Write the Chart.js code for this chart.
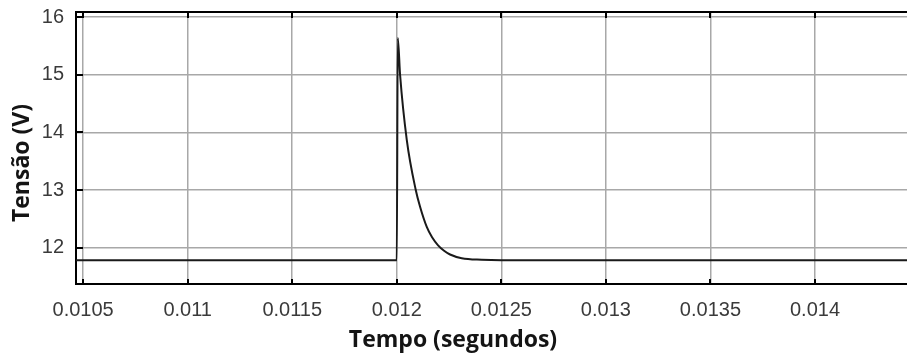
<!DOCTYPE html>
<html>
<head>
<meta charset="utf-8">
<script src="https://cdn.jsdelivr.net/npm/chart.js@4.4.0/dist/chart.umd.min.js"></script>
<style>
  html, body { margin: 0; padding: 0; background: #ffffff; }
  #wrap { width: 907px; height: 356px; position: relative; }
</style>
</head>
<body>
<div id="wrap"><canvas id="c" width="907" height="356"></canvas></div>
<script>
// ---- data ----
const timeSeconds = [0.0104, 0.0119995, 0.0120, 0.0120048, 0.0120158, 0.0120478,
  0.0120908, 0.0121114, 0.0121434, 0.0121688, 0.0121975, 0.0122262, 0.0122549, 0.0123108,
  0.0124064, 0.0125, 0.0145];
const voltage = [11.78, 11.78, 11.78, 15.64, 15.00, 13.87,
  13.00, 12.71, 12.36, 12.18, 12.04, 11.945, 11.88, 11.815,
  11.788, 11.78, 11.78];
const xTickValues = [0.0105, 0.011, 0.0115, 0.012, 0.0125, 0.013, 0.0135, 0.014];
const xTickLabels = ['0.0105', '0.011', '0.0115', '0.012', '0.0125', '0.013', '0.0135', '0.014'];
const yTickValues = [12, 13, 14, 15, 16];
const yTickLabels = ['12', '13', '14', '15', '16'];
const xTitle = 'Tempo (segundos)';
const yTitle = 'Tensão (V)';

const points = timeSeconds.map((t, i) => ({ x: t, y: voltage[i] }));

const framePlugin = {
  id: 'frame',
  afterDraw(chart) {
    const { ctx, chartArea: a, scales } = chart;
    ctx.save();
    ctx.strokeStyle = '#000000';
    ctx.lineWidth = 2;
    // top frame line
    ctx.beginPath();
    ctx.moveTo(a.left, a.top);
    ctx.lineTo(a.right, a.top);
    ctx.stroke();
    // inward tick marks
    ctx.beginPath();
    xTickValues.forEach(v => {
      const px = Math.round(scales.x.getPixelForValue(v));
      ctx.moveTo(px, a.bottom); ctx.lineTo(px, a.bottom - 5);
      ctx.moveTo(px, a.top); ctx.lineTo(px, a.top + 6);
    });
    yTickValues.forEach(v => {
      const py = Math.round(scales.y.getPixelForValue(v));
      ctx.moveTo(a.left, py); ctx.lineTo(a.left + 7, py);
    });
    ctx.stroke();
    // axis titles
    ctx.fillStyle = '#141414';
    ctx.font = 'bold 23px "Open Sans"';
    ctx.textAlign = 'center';
    ctx.textBaseline = 'alphabetic';
    ctx.fillText(xTitle, 453, 347);
    ctx.translate(29, 163);
    ctx.rotate(-Math.PI / 2);
    ctx.fillText(yTitle, 0, 0);
    ctx.restore();
  }
};

new Chart(document.getElementById('c'), {
  type: 'line',
  data: {
    datasets: [{
      data: points,
      borderColor: '#1a1a1a',
      borderWidth: 2,
      pointRadius: 0,
      fill: false,
      cubicInterpolationMode: 'monotone'
    }]
  },
  options: {
    responsive: false,
    animation: false,
    devicePixelRatio: 1,
    layout: { padding: { top: 12, right: 0, left: 0, bottom: 0 } },
    plugins: { legend: { display: false }, tooltip: { enabled: false } },
    scales: {
      x: {
        type: 'linear',
        min: 0.010466,
        max: 0.01444,
        afterBuildTicks(scale) { scale.ticks = xTickValues.map(v => ({ value: v })); },
        afterFit(scale) { scale.height = 72; scale.paddingLeft = 0; scale.paddingRight = 0; },
        ticks: {
          callback: (v, i) => xTickLabels[i],
          font: { family: '"Liberation Sans"', size: 20 },
          color: '#3a3a3a',
          padding: 14,
          maxRotation: 0,
          autoSkip: false
        },
        grid: { color: '#a8a8a8', lineWidth: 1.5, drawTicks: false },
        border: { display: true, color: '#000000', width: 2 }
      },
      y: {
        type: 'linear',
        min: 11.368,
        max: 16.09,
        afterBuildTicks(scale) { scale.ticks = yTickValues.map(v => ({ value: v })); },
        afterFit(scale) { scale.width = 76; scale.paddingTop = 0; scale.paddingBottom = 0; },
        ticks: {
          callback: (v, i) => yTickLabels[i],
          font: { family: '"Liberation Sans"', size: 20 },
          color: '#3a3a3a',
          padding: 12,
          autoSkip: false
        },
        grid: { color: '#a8a8a8', lineWidth: 1.5, drawTicks: false },
        border: { display: true, color: '#000000', width: 2 }
      }
    }
  },
  plugins: [framePlugin]
});
</script>
</body>
</html>
